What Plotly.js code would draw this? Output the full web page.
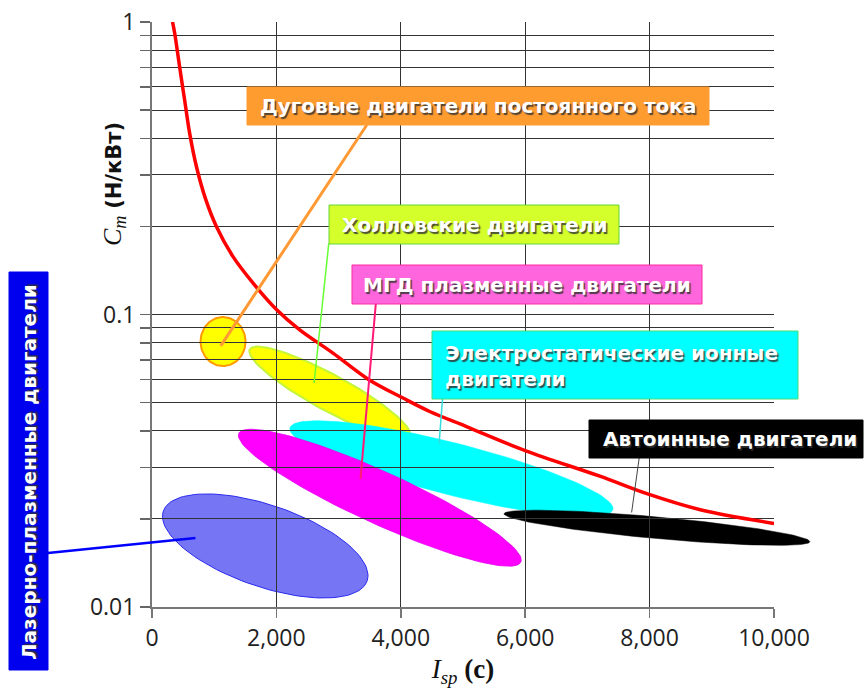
<!DOCTYPE html>
<html><head><meta charset="utf-8">
<script src="https://cdn.plot.ly/plotly-3.0.1.min.js"></script>
<style>html,body{margin:0;padding:0;background:#fff;}</style>
</head><body><div id="chart" style="width:866px;height:694px;"></div>
<script>
// ---- data: limit curve C_m (N/kW) vs specific impulse I_sp (s)
const curveIsp = [330, 365, 445, 525, 605, 715, 865, 1035, 1300, 1625, 2000, 2375, 2910, 3475, 4035, 4465, 5055, 6010, 7200, 7980, 8815, 10000];
const curveCm  = [1.0, 0.915, 0.70, 0.54, 0.417, 0.32, 0.247, 0.20, 0.158, 0.128, 0.104, 0.0886, 0.0738, 0.0601, 0.0518, 0.0466, 0.0414, 0.0342, 0.0280, 0.0243, 0.0215, 0.0193];

// ---- data: thruster regions (centre of each region)
const regionNames = ['Лазерно-плазменные двигатели', 'Холловские двигатели', 'Электростатические ионные двигатели', 'МГД плазменные двигатели', 'Дуговые двигатели постоянного тока', 'Автоинные двигатели'];
const regionIsp = [1821, 2858, 4813, 3663, 1142, 8118];
const regionCm  = [0.01617, 0.054, 0.02969, 0.02364, 0.0808, 0.01866];

// ---- label leader lines (from label box to region), order: Дуговые, Холл, МГД, Электро, Авто, Лазерно
const leaderFromIsp = [3453, 2842, 3598, 4671, 7833, -1673];
const leaderFromCm  = [0.4446, 0.175, 0.1087, 0.0515, 0.03237, 0.01529];
const leaderToIsp   = [1105, 2606, 3352, 4616, 7711, 698];
const leaderToCm    = [0.0781, 0.0583, 0.0274, 0.0363, 0.02105, 0.01721];

// ---- tick labels
const xTickVals = [0, 2000, 4000, 6000, 8000, 10000];
const xTickText = ['0', '2,000', '4,000', '6,000', '8,000', '10,000'];
const yTickVals = [0.01,0.02,0.03,0.04,0.05,0.06,0.07,0.08,0.09,0.1,0.2,0.3,0.4,0.5,0.6,0.7,0.8,0.9,1];
const yTickText = ['0.01','','','','','','','','','0.1','','','','','','','','','1'];

// ---- geometry / style (not data)
const W = 866, H = 694;
const PL = 152, PR = 774, PT = 22, PB = 607;          // visible plot box in pixels
const ispPerPx = 10000 / (PR - PL), decPerPx = 2 / (PB - PT);
const fullX = [(0 - PL) * ispPerPx, (W - PL) * ispPerPx];
const fullY = [-2 - (H - PB) * decPerPx, -2 + PB * decPerPx];

const regionHalfLen = [107.7, 91, 166.6, 155, 24.5, 153.6];
const regionHalfWid = [40.8, 18, 26, 26, 22.5, 10.8];
const regionTilt    = [18.9, 28.5, 14.2, 24.5, 90, 5.2];
const regionFill = ['rgb(118,118,245)', '#ffff00', '#00ffff', '#ff00ff', '#ffff00', '#000000'];
const regionLine = ['#2a2aee', '#c4f53a', '#00ffff', '#e400f0', '#ff9900', '#000000'];
const regionLineW = [1, 2, 0.5, 0.8, 2, 0.5];

function ellipse(i) {
  const xs = [], ys = [], N = 120;
  const th = regionTilt[i] * Math.PI / 180, lc = Math.log10(regionCm[i]);
  for (let k = 0; k <= N; k++) {
    const t = 2 * Math.PI * k / N;
    const u = regionHalfLen[i] * Math.cos(t), v = regionHalfWid[i] * Math.sin(t);
    const dx = u * Math.cos(th) - v * Math.sin(th);
    const dy = u * Math.sin(th) + v * Math.cos(th);
    xs.push(regionIsp[i] + dx * ispPerPx);
    ys.push(Math.pow(10, lc - dy * decPerPx));
  }
  return {x: xs, y: ys};
}

const traces = [];
// layer 1 (bottom): regions
regionNames.forEach((n, i) => {
  const e = ellipse(i);
  traces.push({type:'scatter', mode:'lines', x:e.x, y:e.y, fill:'toself', name:n,
    fillcolor: regionFill[i], line:{color: regionLine[i], width: regionLineW[i]},
    xaxis:'x', yaxis:'y', hoverinfo:'skip', showlegend:false});
});
// layer 2: grid + limit curve
traces.push({type:'scatter', mode:'lines', x:curveIsp, y:curveCm, xaxis:'x2', yaxis:'y2',
  line:{color:'#ff0000', width:3.5, shape:'spline', smoothing:1}, hoverinfo:'skip', showlegend:false});
// layer 3 (top): leader lines
const leaderColor = ['#ff9933', '#66ff33', '#ff1a75', '#33dddd', '#444444', '#0000ff'];
const leaderWidth = [3, 1.5, 2, 1.5, 1, 2.5];
leaderToIsp.forEach((v, i) => {
  traces.push({type:'scatter', mode:'lines', x:[leaderFromIsp[i], v], y:[leaderFromCm[i], leaderToCm[i]],
    xaxis:'x3', yaxis:'y3', line:{color:leaderColor[i], width:leaderWidth[i]}, hoverinfo:'skip', showlegend:false});
});

// label boxes in pixel coordinates
const pxX = p => p / W, pxY = p => 1 - p / H;
const boxes = [
  {x0:247, x1:709, y0:87,  y1:125, fill:'#ff9c30', line:'#ff9c30'},
  {x0:329, x1:619, y0:205, y1:244, fill:'#d4ff2a', line:'#66d43a'},
  {x0:352, x1:702, y0:265, y1:304, fill:'#ff66dd', line:'#ff2a9d'},
  {x0:432, x1:798, y0:331, y1:399, fill:'#00ffff', line:'#44dd77'},
  {x0:589, x1:863, y0:420, y1:458, fill:'#000000', line:'#000000'},
  {x0:9,   x1:48,  y0:272, y1:670, fill:'#0000ee', line:'#0000ee'}
];
const shapes = boxes.map(b => ({type:'rect', xref:'paper', yref:'paper', layer:'above',
  x0:pxX(b.x0), x1:pxX(b.x1), y0:pxY(b.y1), y1:pxY(b.y0), fillcolor:b.fill, line:{color:b.line, width:1}}));

const labelFont = {family:'DejaVu Sans', size:20, color:'#ffffff', weight:700, shadow:'1.5px 1.5px 1px rgba(50,50,50,0.85)'};
const labels = [
  {text:'Дуговые двигатели постоянного тока', px:478, py:106, xa:'center'},
  {text:'Холловские двигатели', px:474, py:224.5, xa:'center'},
  {text:'МГД плазменные двигатели', px:527, py:284.5, xa:'center'},
  {text:'Электростатические ионные<br>двигатели', px:443, py:366, xa:'left'},
  {text:'Автоинные двигатели', px:730, py:439, xa:'center'},
  {text:'Лазерно-плазменные двигатели', px:29, py:472, xa:'center', angle:-90}
];
const annotations = labels.map(l => ({xref:'paper', yref:'paper', x:pxX(l.px), y:pxY(l.py),
  xanchor:l.xa, yanchor:'middle', align:'left', showarrow:false, text:l.text, font:labelFont,
  textangle: l.angle || 0}));

// y-axis title
annotations.push({xref:'paper', yref:'paper', x:pxX(114), y:pxY(184), xanchor:'center', yanchor:'middle',
  textangle:-90, showarrow:false,
  text:'<span style="font-family:Liberation Serif;font-size:26px"><i>C</i><sub><i>m</i></sub></span> <b>(Н/кВт)</b>',
  font:{family:'DejaVu Sans', size:21, color:'#111'}});

const tickFont = {family:'Open Sans', size:23, color:'#222'};
const hidden = {visible:false, fixedrange:true, domain:[0,1]};
const layout = {
  width:W, height:H, margin:{l:0, r:0, t:0, b:0, pad:0},
  paper_bgcolor:'#ffffff', plot_bgcolor:'rgba(0,0,0,0)', showlegend:false,
  xaxis:Object.assign({anchor:'y', range:fullX}, hidden),
  yaxis:Object.assign({anchor:'x', type:'log', range:fullY}, hidden),
  xaxis3:Object.assign({anchor:'y3', range:fullX}, hidden),
  yaxis3:Object.assign({anchor:'x3', type:'log', range:fullY}, hidden),
  xaxis2:{domain:[PL / W, PR / W], anchor:'y2', range:[0,10000], tickvals:xTickVals, ticktext:xTickText,
    showgrid:true, gridcolor:'#333', gridwidth:1, zeroline:false, showline:true, linecolor:'#777', linewidth:2,
    ticks:'outside', ticklen:9, tickwidth:1.5, tickcolor:'#777', tickfont:tickFont, automargin:false, fixedrange:true,
    title:{text:'<i>I</i><sub><i>sp</i></sub> <b>(с)</b>', font:{family:'Liberation Serif', size:27, color:'#111'}, standoff:8}},
  yaxis2:{domain:[1 - PB / H, 1 - PT / H], anchor:'x2', type:'log', range:[-2,0], tickvals:yTickVals, ticktext:yTickText,
    showgrid:true, gridcolor:'#333', gridwidth:1, zeroline:false, showline:true, linecolor:'#777', linewidth:2,
    ticks:'outside', ticklen:10, tickwidth:1.5, tickcolor:'#666', tickfont:tickFont, automargin:false, fixedrange:true},
  shapes:shapes, annotations:annotations
};
Plotly.newPlot('chart', traces, layout, {staticPlot:true, displayModeBar:false});
</script></body></html>
